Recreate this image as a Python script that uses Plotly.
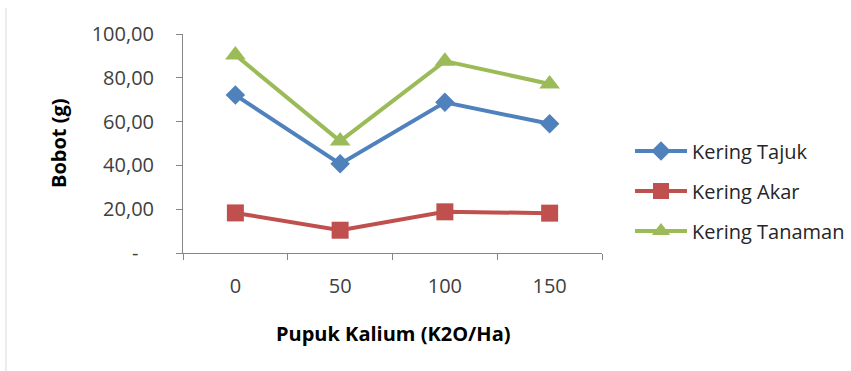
import plotly.graph_objects as go

categories = ["0", "50", "100", "150"]
kering_tajuk = [72.1, 40.7, 68.8, 59.0]
kering_akar = [18.3, 10.4, 18.8, 18.2]
kering_tanaman = [90.4, 51.1, 87.6, 77.2]
y_tickvals = [0, 20, 40, 60, 80, 100]
y_ticktext = ["-\u00a0\u00a0\u00a0", "20,00", "40,00", "60,00", "80,00", "100,00"]

FONT = "Open Sans"
W, H = 851, 371
fig = go.Figure()
series = [
    ("Kering Tajuk", kering_tajuk, "#4F81BD", "diamond", 15, "legend"),
    ("Kering Akar", kering_akar, "#C0504D", "square", 17, "legend2"),
    ("Kering Tanaman", kering_tanaman, "#9BBB59", "triangle-up", 18, "legend3"),
]
for name, vals, col, sym, sz, lg in series:
    fig.add_trace(go.Scatter(
        x=categories, y=vals, name=name, mode="lines+markers",
        line=dict(color=col, width=4),
        marker=dict(symbol=sym, size=sz, color=col),
        legend=lg,
    ))

def leg(ypx):
    return dict(x=630 / W, y=1 - ypx / H, xref="container", yref="container",
                xanchor="left", yanchor="middle",
                font=dict(family=FONT, size=20, color="#262626"),
                bgcolor="rgba(0,0,0,0)", itemwidth=52)

fig.update_layout(
    width=W, height=H,
    margin=dict(l=183, r=249, t=34, b=118, autoexpand=False),
    paper_bgcolor="white", plot_bgcolor="white",
    showlegend=True,
    legend=leg(151),
    legend2=leg(191),
    legend3=leg(231),
    xaxis=dict(
        type="category", range=[-0.5, 3.5], tickson="boundaries",
        showline=True, linecolor="#868686", linewidth=1,
        ticks="outside", ticklen=6, tickcolor="#868686",
        showgrid=False, zeroline=False,
        tickfont=dict(family=FONT, size=20, color="#404040"),
        ticklabelstandoff=15,
    ),
    yaxis=dict(
        range=[0, 100], tickvals=y_tickvals, ticktext=y_ticktext,
        showline=True, linecolor="#868686", linewidth=1,
        ticks="outside", ticklen=6, tickcolor="#868686",
        showgrid=False, zeroline=False,
        tickfont=dict(family=FONT, size=20, color="#404040"),
        ticklabelstandoff=18,
    ),
    annotations=[
        dict(text="<b>Pupuk Kalium (K2O/Ha)</b>", xref="paper", yref="paper",
             x=(393 - 183) / 419, y=-(333 - 253) / 219, xanchor="center", yanchor="middle",
             showarrow=False, font=dict(family=FONT, size=20, color="#000000")),
        dict(text="<b>Bobot (g)</b>", xref="paper", yref="paper", textangle=-90,
             x=-(183 - 58) / 419, y=(253 - 143) / 219, xanchor="center", yanchor="middle",
             showarrow=False, font=dict(family=FONT, size=20, color="#000000")),
    ],
    shapes=[
        dict(type="line", xref="paper", yref="paper",
             x0=-(183 - 6) / 419, x1=-(183 - 6) / 419,
             y0=(253 - 8) / 219, y1=(253 - 371) / 219,
             line=dict(color="#D9D9D9", width=1)),
    ],
)

fig.write_html("out.html", config={"displayModeBar": False},
               post_script="document.body.style.margin='0';")
